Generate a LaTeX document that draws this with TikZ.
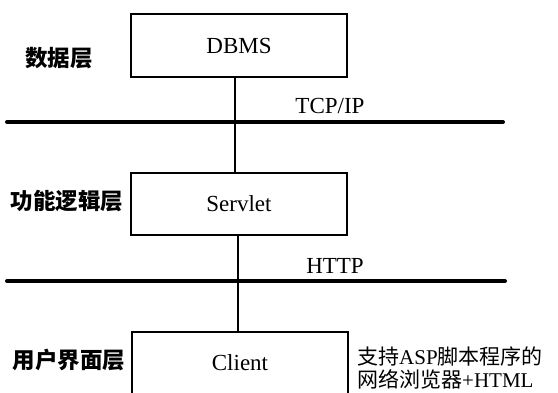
\documentclass[tikz,border=0pt]{standalone}
\usepackage{fontspec}
\setmainfont{Liberation Serif}
\newfontfamily\cjk{Noto Sans CJK SC}
\begin{document}
\begin{tikzpicture}[x=1pt,y=-1pt,
  box/.style={draw,line width=1.7pt,minimum width=216pt,inner sep=0pt,font=\fontsize{23}{26}\selectfont},
  link/.style={line width=1.8pt},
  net/.style={line width=4pt,line cap=round},
  layer/.style={font=\cjk\bfseries\fontsize{22.5}{26}\selectfont,inner sep=0pt},
  proto/.style={font=\fontsize{23}{26}\selectfont,inner sep=0pt,anchor=base}]
\useasboundingbox (0,0) rectangle (558,392);
\clip (0,0) rectangle (558,392);
% boxes
\node[box,minimum height=63pt] (dbms) at (239,45.5) {DBMS};
\node[box,minimum height=62pt] (servlet) at (239,204) {Servlet};
\node[box,anchor=north,inner ysep=23pt,text depth=70pt] (client) at (240,331) {Client};
% network lines
\coordinate (tcpL) at (7,122);
\coordinate (tcpR) at (503,122);
\coordinate (httpL) at (7,281);
\coordinate (httpR) at (505,281);
\draw[net] (tcpL) -- (tcpR);
\draw[net] (httpL) -- (httpR);
% connectors
\draw[link] ([xshift=-4pt]dbms.south) -- ([xshift=-4pt]servlet.north);
\draw[link] ([xshift=-1pt]servlet.south) -- ([xshift=-1pt]servlet.south |- client.north);
% protocol labels
\node[proto] (tcp) at (330,113) {TCP/IP};
\node[proto] (http) at (335,273) {HTTP};
% layer labels
\node[layer] (l1) at (59,58) {数据层};
\node[layer] (l2) at (67,201) {功能逻辑层};
\node[layer] (l3) at (69,360) {用户界面层};
% note
\node[inner sep=0pt,anchor=west,align=left,font=\fontsize{21}{23}\selectfont] (note) at (357,368)
  {{\cjk 支持}ASP{\cjk 脚本程序的}\\{\cjk 网络浏览器}+HTML};
\end{tikzpicture}
\end{document}
